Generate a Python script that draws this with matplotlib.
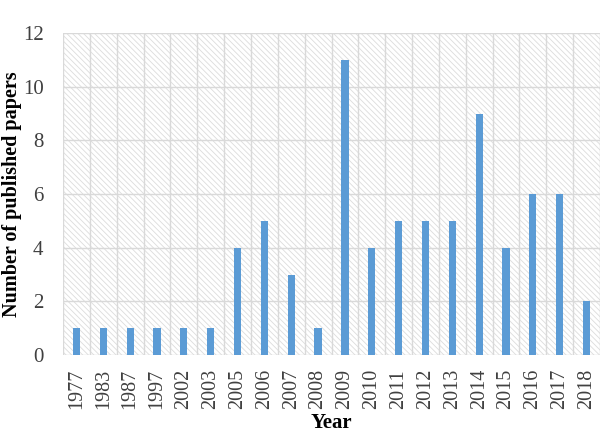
import matplotlib.pyplot as plt
from matplotlib.patches import Rectangle

years = ['1977', '1983', '1987', '1997', '2002', '2003', '2005', '2006', '2007', '2008',
         '2009', '2010', '2011', '2012', '2013', '2014', '2015', '2016', '2017', '2018']
papers = [1, 1, 1, 1, 1, 1, 4, 5, 3, 1, 11, 4, 5, 5, 5, 9, 4, 6, 6, 2]

plt.rcParams['font.family'] = ['Liberation Serif', 'DejaVu Serif']
plt.rcParams['hatch.color'] = '#dcdcdc'
plt.rcParams['hatch.linewidth'] = 0.6

fig = plt.figure(figsize=(6.03, 4.32), dpi=100)
ax = fig.add_axes([63 / 603, 1 - 355 / 432, 537 / 603, 322 / 432])

x = list(range(len(years)))
ax.set_xlim(-0.5, len(years) - 0.5)
ax.set_ylim(0, 12)

# hatched background like the original
ax.add_patch(Rectangle((0, 0), 1, 1, transform=ax.transAxes, facecolor='white',
                       edgecolor='#dcdcdc', hatch='\\\\\\\\\\\\', lw=0, zorder=0))

# grid lines at category boundaries and every 2 papers
for b in range(len(years) + 1):
    ax.axvline(b - 0.5, color='#d9d9d9', lw=1, zorder=1)
for yv in range(0, 13, 2):
    ax.axhline(yv, color='#d9d9d9', lw=1, zorder=1)

ax.bar(x, papers, width=0.27, color='#5b9bd5', zorder=3)

ax.set_xticks(x)
ax.set_xticklabels(years, rotation=90, fontsize=14.5)
ax.set_yticks(range(0, 13, 2))
ax.tick_params(axis='y', labelsize=15, length=0, pad=14)
ax.tick_params(axis='x', length=0, pad=10)
for lab in ax.get_xticklabels() + ax.get_yticklabels():
    lab.set_color('#404040')

for s in ax.spines.values():
    s.set_visible(False)

ax.set_xlabel('Year', fontsize=15, fontweight='bold')
ax.xaxis.set_label_coords(0.5, -0.18)
ax.set_ylabel('Number of published papers', fontsize=14.5, fontweight='bold')
ax.yaxis.set_label_coords(-0.077, 0.5)

fig.savefig('out.png', dpi=100)
